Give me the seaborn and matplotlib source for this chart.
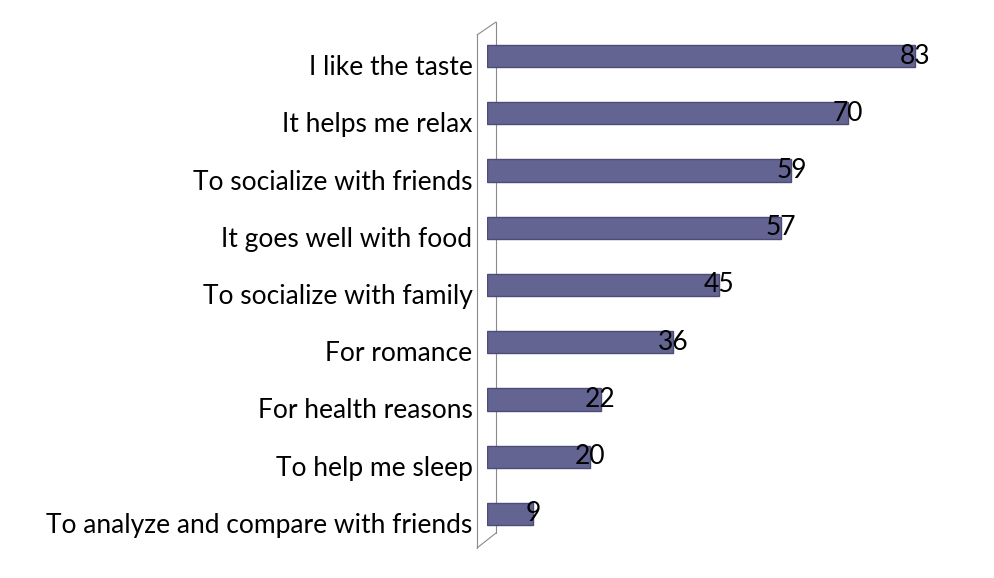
import matplotlib
matplotlib.use('Agg')
import matplotlib.pyplot as plt
import matplotlib.transforms as mtransforms
import seaborn as sns
import pandas as pd
from matplotlib.lines import Line2D

# values
reasons = ['I like the taste', 'It helps me relax', 'To socialize with friends',
           'It goes well with food', 'To socialize with family', 'For romance',
           'For health reasons', 'To help me sleep', 'To analyze and compare with friends']
counts = [83, 70, 59, 57, 45, 36, 22, 20, 9]

df = pd.DataFrame({'reason': reasons, 'count': counts})

sns.set_theme(style='white')
plt.rcParams['font.family'] = ['Lato', 'DejaVu Sans']

W, H = 994, 578
fig = plt.figure(figsize=(W / 100, H / 100), dpi=100)

# axes placed so that 0 sits at x=487px, 5.16 px per unit, rows 57.25px apart
x0, ppu = 487, 5.16
xmax = 96
top, bottom = 27.4, 542.6
ax = fig.add_axes([x0 / W, 1 - bottom / H, xmax * ppu / W, (bottom - top) / H])
ax.patch.set_alpha(0)

sns.barplot(data=df, x='count', y='reason', orient='h', color='#646493',
            width=0.385, edgecolor='#4c4c76', linewidth=1.0, saturation=1, ax=ax)

ax.set_xlim(0, xmax)
ax.set_xlabel('')
ax.set_ylabel('')
ax.set_xticks([])
ax.tick_params(axis='y', length=0, pad=10.5, labelsize=19, labelcolor='black')
for s in ax.spines.values():
    s.set_visible(False)

# category labels sit a little below the bars (3D look)
shift = mtransforms.ScaledTranslation(0, -9 / 100, fig.dpi_scale_trans)
for lab in ax.get_yticklabels():
    lab.set_transform(lab.get_transform() + shift)

for i, v in enumerate(counts):
    ax.text(v, i, str(v), ha='center', va='center', fontsize=19, color='black')

# thin 3D side wall
def px(x, y):
    return x / W, 1 - y / H

wall = '#8a8a8a'
for (xa, ya), (xb, yb) in [((477, 35), (477, 548)), ((496, 22), (496, 533)),
                           ((477, 35), (496, 22)), ((477, 548), (496, 533))]:
    (fa, ga), (fb, gb) = px(xa, ya), px(xb, yb)
    fig.add_artist(Line2D([fa, fb], [ga, gb], color=wall, lw=0.8, zorder=0))

fig.savefig('out.png', dpi=100, facecolor='white')
